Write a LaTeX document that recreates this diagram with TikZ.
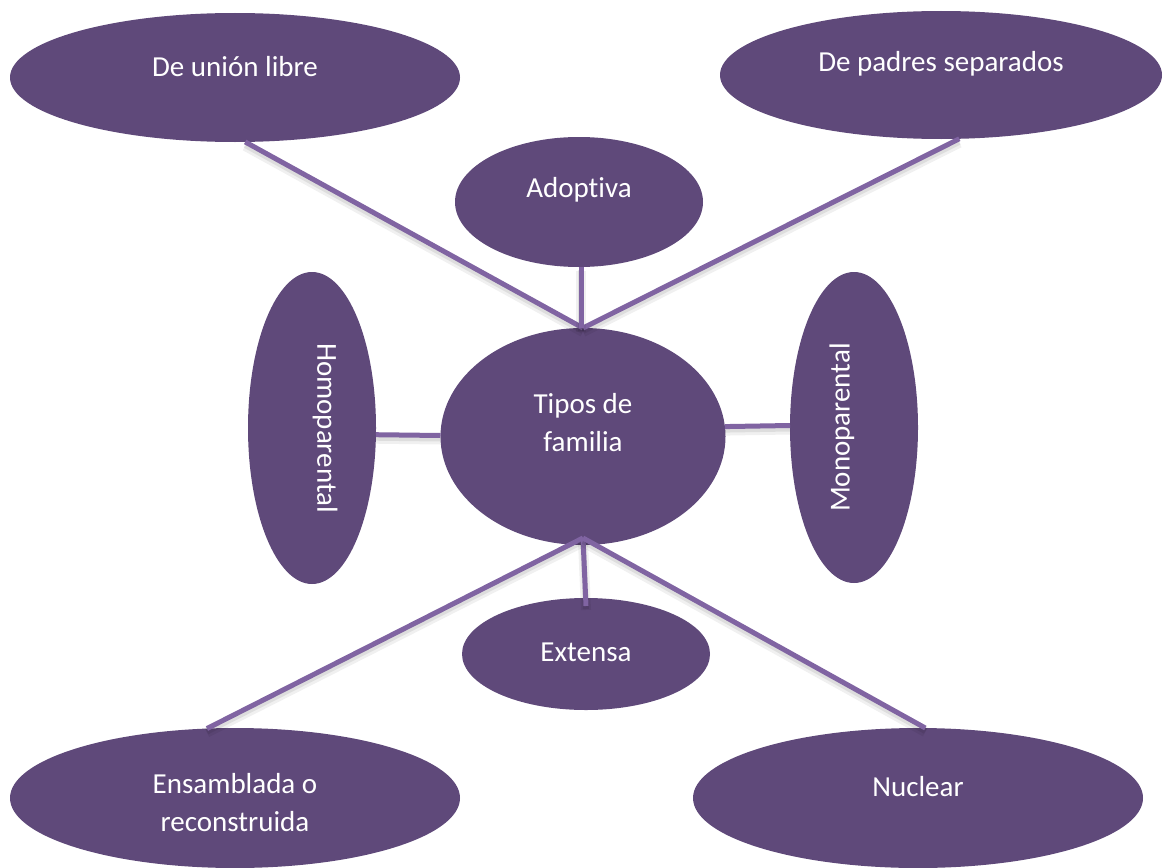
\documentclass[tikz,border=0pt]{standalone}
\usepackage{fontspec}
\setmainfont{Carlito}[Ligatures=NoCommon]
\usetikzlibrary{shapes.geometric,calc}
\definecolor{fillC}{HTML}{5F497A}
\definecolor{lineC}{HTML}{8064A2}
\begin{document}
\begin{tikzpicture}[x=1pt,y=-1pt,
  blob/.style={ellipse,fill=fillC,draw=none,inner sep=0pt,outer sep=0pt},
  lbl/.style={text=white,font=\fontsize{29}{38}\selectfont,align=center,inner sep=0pt},
  conn/.style={draw=lineC,line width=5pt,
    preaction={draw=black,opacity=0.06,line width=10pt,transform canvas={yshift=-4pt}},
    preaction={draw=black,opacity=0.08,line width=6pt,transform canvas={yshift=-3pt}}}]
\useasboundingbox (0,0) rectangle (1164,867);
% ellipses
\node[blob,minimum width=450,minimum height=129] (ul) at (235,77.5) {};
\node[blob,minimum width=442,minimum height=128] (ps) at (941,75) {};
\node[blob,minimum width=248,minimum height=130] (ad) at (579,202) {};
\node[blob,minimum width=128,minimum height=312] (ho) at (312,428) {};
\node[blob,minimum width=285,minimum height=217] (ti) at (583,436.5) {};
\node[blob,minimum width=128,minimum height=311] (mo) at (854,427.5) {};
\node[blob,minimum width=248,minimum height=112] (ex) at (586,654) {};
\node[blob,minimum width=450,minimum height=140] (en) at (235,798) {};
\node[blob,minimum width=450,minimum height=140] (nu) at (918,798) {};
% hubs
\coordinate (hubT) at (ti.north);
\coordinate (hubB) at ([yshift=7pt]ti.south);
% connectors
\draw[conn] (ul.-81) -- (hubT);
\draw[conn] (ps.-74) -- (hubT);
\draw[conn] ([xshift=2pt]ad.south) -- ([xshift=-2pt]hubT);
\draw[conn] (ho.-6) -- ([yshift=1pt]ti.west);
\draw[conn] (ti.4) -- ([yshift=2pt]mo.west);
\draw[conn] (hubB) -- (en.112);
\draw[conn] (hubB) -- ([yshift=-8pt]ex.north);
\draw[conn] (hubB) -- (nu.84);
% labels
\node[lbl] (tul) at ([yshift=11pt]ul.center) {De unión libre};
\node[lbl] (tps) at ([yshift=11pt]ps.center) {De padres separados};
\node[lbl] (tad) at ([yshift=12pt]ad.center) {Adoptiva};
\node[lbl,rotate=-90] (tho) at ([xshift=13pt]ho.center) {Homoparental};
\node[lbl] (tti) at ([yshift=14pt]ti.center) {Tipos de\\familia};
\node[lbl,rotate=90] (tmo) at ([xshift=-12pt]mo.center) {Monoparental};
\node[lbl] (tex) at ([yshift=2pt]ex.center) {Extensa};
\node[lbl] (ten) at ([yshift=-5pt]en.center) {Ensamblada o\\reconstruida};
\node[lbl] (tnu) at ([yshift=11pt]nu.center) {Nuclear};
\end{tikzpicture}
\end{document}
